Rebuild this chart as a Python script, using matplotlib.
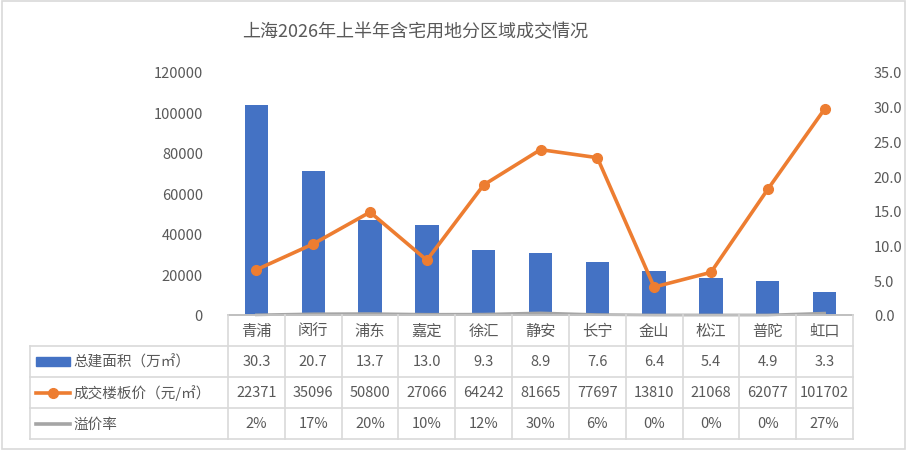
import matplotlib.pyplot as plt
from matplotlib.patches import Rectangle
from matplotlib.lines import Line2D

plt.rcParams['font.family'] = ['Noto Sans CJK SC', 'DejaVu Sans']

districts = ['青浦', '闵行', '浦东', '嘉定', '徐汇', '静安', '长宁', '金山', '松江', '普陀', '虹口']
area = [30.3, 20.7, 13.7, 13.0, 9.3, 8.9, 7.6, 6.4, 5.4, 4.9, 3.3]
price = [22371, 35096, 50800, 27066, 64242, 81665, 77697, 13810, 21068, 62077, 101702]
premium = [0.02, 0.17, 0.20, 0.10, 0.12, 0.30, 0.06, 0.0, 0.0, 0.0, 0.27]
premium_labels = ['2%', '17%', '20%', '10%', '12%', '30%', '6%', '0%', '0%', '0%', '27%']

series_names = ['总建面积（万㎡）', '成交楼板价（元/㎡）', '溢价率']
blue, orange, grey = '#4472C4', '#ED7D31', '#A5A5A5'
txt = '#595959'
border = '#D9D9D9'

W, H = 909, 452
fig = plt.figure(figsize=(W / 100, H / 100), dpi=100)
fig.patch.set_facecolor('white')
fig.add_artist(Rectangle((0.002, 0.004), 0.994, 0.992, transform=fig.transFigure,
                         fill=False, edgecolor=border, lw=1.2))

# plot area in pixels
x0, x1, y_top, y_bot = 228, 853, 73, 316
ax = fig.add_axes([x0 / W, 1 - y_bot / H, (x1 - x0) / W, (y_bot - y_top) / H])
n = len(districts)
xs = list(range(n))

# bars + premium on the right (secondary) scale
ax.bar(xs, area, width=0.41, color=blue, zorder=2)
ax.plot(xs, premium, color=grey, lw=2.0, zorder=3, clip_on=False)
ax.set_ylim(0, 35)
ax.set_xlim(-0.5, n - 0.5)
ax.set_xticks([])

# price line on the left scale, drawn on top
ax2 = ax.twinx()
ax2.plot(xs, price, color=orange, lw=2.6, marker='o', ms=7, zorder=4)
ax2.set_ylim(0, 120000)
ax2.yaxis.tick_left()
ax2.set_yticks(range(0, 120001, 20000))
ax2.set_yticklabels([str(v) for v in range(0, 120001, 20000)])
ax2.tick_params(axis='y', length=0, pad=18, labelsize=10.5, labelcolor=txt)

ax.yaxis.tick_right()
ax.set_yticks([0, 5, 10, 15, 20, 25, 30, 35])
ax.set_yticklabels([f'{v:.1f}' for v in range(0, 36, 5)])
ax.tick_params(axis='y', length=0, pad=15, labelsize=10.5, labelcolor=txt,
               left=False, labelleft=False, right=False, labelright=True)

for a in (ax, ax2):
    for s in a.spines.values():
        s.set_visible(False)
    a.patch.set_visible(False)

fig.text(415 / W, 1 - 32 / H, '上海2026年上半年含宅用地分区域成交情况',
         ha='center', va='center', fontsize=13, color=txt)

# data table below
tx0, ty_bot = 30, 440
label_w = (x0 - tx0) / ((x1 - x0) / n)
tab = fig.add_axes([tx0 / W, 1 - ty_bot / H, (x1 - tx0) / W, (ty_bot - y_bot) / H])
tab.set_xlim(-0.5 - label_w, n - 0.5)
tab.set_ylim(4, 0)
tab.axis('off')

lk = dict(color=border, lw=1.2, clip_on=False)
tab.plot([-0.5, n - 0.5], [0, 0], color='#BFBFBF', lw=1.4, clip_on=False)
for r in (1, 2, 3, 4):
    tab.plot([-0.5 - label_w, n - 0.5], [r, r], **lk)
for i in range(n + 1):
    tab.plot([i - 0.5, i - 0.5], [0, 4], **lk)
tab.plot([-0.5 - label_w, -0.5 - label_w], [1, 4], **lk)

rows = [[f'{v:.1f}' for v in area], [str(v) for v in price], premium_labels]
for i, d in enumerate(districts):
    tab.text(i, 0.5, d, ha='center', va='center', fontsize=11, color=txt)
    for r, vals in enumerate(rows):
        tab.text(i, r + 1.5, vals[i], ha='center', va='center', fontsize=10.5, color=txt)

kx0 = -0.5 - label_w + 0.11
kx1 = kx0 + 0.6
km = (kx0 + kx1) / 2
tab.add_patch(Rectangle((kx0, 1.37), kx1 - kx0, 0.26, color=blue, clip_on=False))
tab.add_line(Line2D([kx0, km, kx1], [2.5, 2.5, 2.5], color=orange, lw=2.6, marker='o',
                    markevery=[1], ms=7, clip_on=False))
tab.add_line(Line2D([kx0, kx1], [3.5, 3.5], color=grey, lw=2.6, clip_on=False))
for r, name in enumerate(series_names):
    tab.text(kx1 + 0.05, r + 1.5, name, ha='left', va='center', fontsize=10.5, color=txt)

fig.savefig('out.png', dpi=100)
